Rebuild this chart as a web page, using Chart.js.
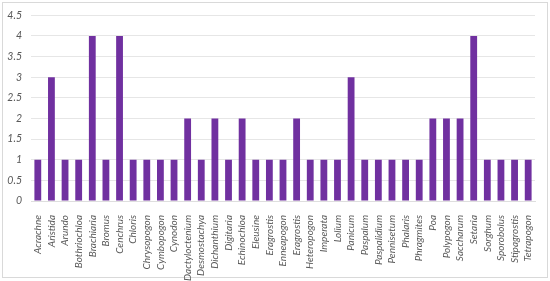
<!DOCTYPE html>
<html>
<head>
<meta charset="utf-8">
<script src="https://cdn.jsdelivr.net/npm/chart.js@4/dist/chart.umd.min.js"></script>
<style>
html,body{margin:0;padding:0;background:#fff;}
#wrap{position:absolute;left:0;top:0;width:550px;height:281px;}
</style>
</head>
<body>
<div id="wrap"><canvas id="c" width="550" height="281"></canvas></div>
<script>
const categories = ["Acrachne","Aristida","Arundo","Bothriochloa","Brachiaria","Bromus","Cenchrus","Chloris","Chrysopogon","Cymbopogon","Cynodon","Dactyloctenium","Desmostachya","Dichanthium","Digitaria","Echinochloa","Eleusine","Eragrostis","Enneapogon","Eragrostis","Heteropogon","Imperata","Lolium","Panicum","Paspalum","Paspalidium","Pennisetum","Phalaris","Phragmites","Poa","Polypogon","Saccharum","Setaria","Sorghum","Sporobolus","Stipagrostis","Tetrapogon"];
const counts = [1,3,1,1,4,1,4,1,1,1,1,2,1,2,1,2,1,1,1,2,1,1,1,3,1,1,1,1,1,2,2,2,4,1,1,1,1];
const yTicks = [0,0.5,1,1.5,2,2.5,3,3.5,4,4.5];

const borderPlugin = {
  id:'outerBorder',
  beforeDraw(chart){
    const ctx = chart.ctx;
    ctx.save();
    ctx.fillStyle = '#ffffff';
    ctx.fillRect(0,0,chart.width,chart.height);
    ctx.strokeStyle = '#d9d9d9';
    ctx.lineWidth = 1;
    ctx.strokeRect(2.5,2.5,545,275);
    ctx.restore();
  }
};

new Chart(document.getElementById('c'), {
  type: 'bar',
  data: {
    labels: categories,
    datasets: [{
      data: counts,
      backgroundColor: '#7030A0',
      borderWidth: 0,
      barPercentage: 0.5,
      categoryPercentage: 1.0
    }]
  },
  options: {
    responsive: false,
    animation: false,
    devicePixelRatio: 1,
    layout: { padding: { left: 0, right: 15, top: 15, bottom: 0 } },
    plugins: { legend: { display: false }, tooltip: { enabled: false } },
    scales: {
      x: {
        grid: { display: false },
        border: { display: true, color: '#dedede' },
        ticks: {
          autoSkip: false,
          minRotation: 90,
          maxRotation: 90,
          padding: 6,
          color: '#595959',
          font: { family: 'Lato', size: 10, style: 'italic' }
        },
        afterFit(scale){ scale.height = 80; }
      },
      y: {
        min: 0,
        max: 4.5,
        afterBuildTicks(scale){ scale.ticks = yTicks.map(v => ({ value: v })); },
        grid: { color: '#e6e6e6', drawTicks: false },
        border: { display: false },
        ticks: {
          padding: 9,
          color: '#595959',
          font: { family: 'Lato', size: 10.5, style: 'italic' },
          callback: v => String(v)
        },
        afterFit(scale){ scale.width = 31; }
      }
    }
  },
  plugins: [borderPlugin]
});
</script>
</body>
</html>
